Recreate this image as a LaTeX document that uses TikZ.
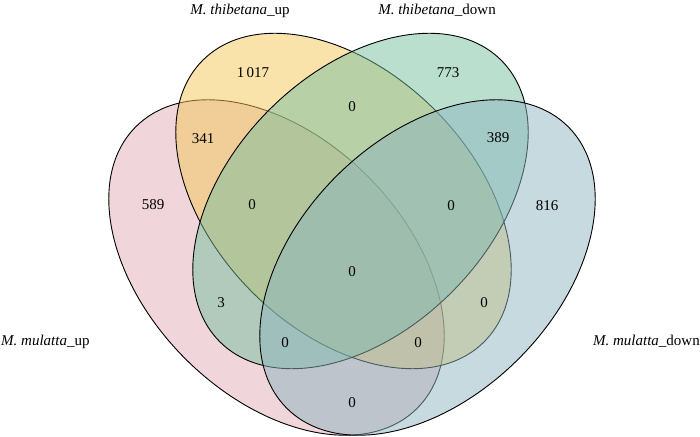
\documentclass[tikz,border=0pt]{standalone}
\usepackage{fontspec}
\setmainfont{Liberation Serif}
\definecolor{setA}{RGB}{225,171,181}
\definecolor{setB}{RGB}{243,199,87}
\definecolor{setC}{RGB}{117,191,159}
\definecolor{setD}{RGB}{141,181,191}
\usetikzlibrary{positioning}

\begin{document}
\begin{tikzpicture}[
  x=1pt, y=1pt,
  font=\fontsize{15}{18}\selectfont,
  set/.style={draw=black, line width=0.9pt, fill opacity=0.5},
  count/.style={inner sep=0pt},
  setlabel/.style={inner sep=0pt}
]
  \useasboundingbox (0,0) rectangle (700,436);
  % four sets, later fills veil the earlier outlines
  \foreach \cx/\cy/\ang/\col in {276.5/168.5/135/setA, 343.5/235/135/setB,
                                 360.5/235/45/setC, 427.5/168.5/45/setD} {
    \draw[set, fill=\col, rotate around={\ang:(\cx,\cy)}]
      (\cx,\cy) ellipse [x radius=199, y radius=129];
  }

  \foreach \px/\py/\num [count=\i] in {253/363/{1\,017}, 448/363/773, 352/329/0,
      203/297/341, 498/298/389, 153/231/589, 252/231/0, 451/230/0, 547/230/816,
      352/164/0, 221/133/3, 484/133/0, 285/93/0, 418/93/0, 352/33/0} {
    \node[count] (n\i) at (\px,\py) {\num};
  }

  \node[setlabel, anchor=base] (labB) at (240,421) {\textit{M. thibetana}\_up};
  \node[setlabel, anchor=base] (labC) at (437,421) {\textit{M. thibetana}\_down};
  \node[setlabel, anchor=base west] (labA) at (1,91) {\textit{M. mulatta}\_up};
  \node[setlabel, anchor=base east] (labD) at (700,91) {\textit{M. mulatta}\_down};
\end{tikzpicture}
\end{document}
